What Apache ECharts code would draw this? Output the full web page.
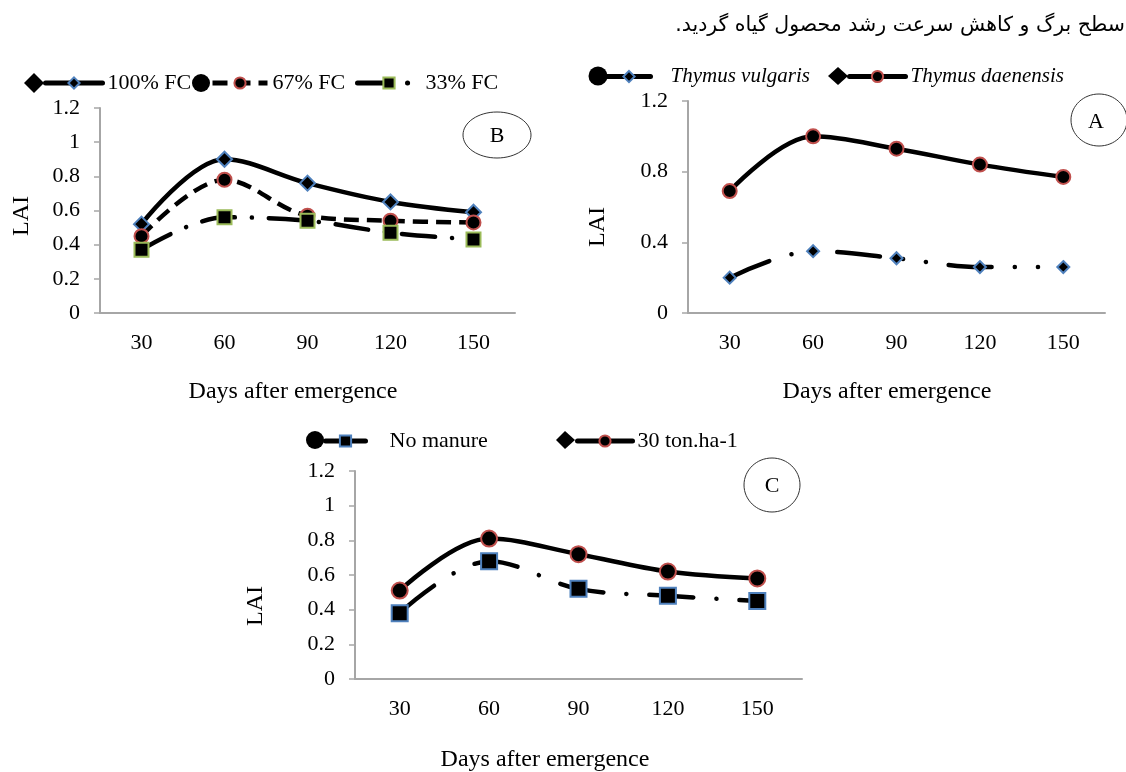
<!DOCTYPE html>
<html><head><meta charset="utf-8">
<script src="https://cdn.jsdelivr.net/npm/echarts@6/dist/echarts.min.js"></script>
<style>html,body{margin:0;padding:0;background:#fff}#c{width:1126px;height:772px}</style>
</head><body><div id="c"></div>
<script>
// ---- data ----
const days = ['30', '60', '90', '120', '150'];
const fc100 = [0.52, 0.90, 0.76, 0.65, 0.59];
const fc67 = [0.45, 0.78, 0.57, 0.54, 0.53];
const fc33 = [0.37, 0.56, 0.54, 0.47, 0.43];
const vulgaris = [0.20, 0.35, 0.31, 0.26, 0.26];
const daenensis = [0.69, 1.00, 0.93, 0.84, 0.77];
const noManure = [0.38, 0.68, 0.52, 0.48, 0.45];
const ton30 = [0.51, 0.81, 0.72, 0.62, 0.58];
const yIntervals = [0.2, 0.4, 0.2]; // panel B, panel A, panel C
const persianLine = 'سطح برگ و کاهش سرعت رشد محصول گیاه گردید.\u200f';

const chart = echarts.init(document.getElementById('c'), null, {renderer: 'canvas'});
const serif = 'Liberation Serif';
const BLUE = '#4f81bd', RED = '#c0504d', GREEN = '#9bbb59', AXIS = '#a6a6a6';

function xAx(i) {
  return {type: 'category', gridIndex: i, data: days,
    axisLine: {lineStyle: {color: AXIS, width: 2}}, axisTick: {show: false},
    axisLabel: {color: '#000', fontFamily: serif, fontSize: 22, margin: 19}};
}
function yAx(i, interval) {
  return {type: 'value', gridIndex: i, min: 0, max: 1.2, interval: interval,
    splitLine: {show: false},
    axisLine: {show: true, lineStyle: {color: AXIS, width: 2}},
    axisTick: {show: true, length: 6, lineStyle: {color: AXIS, width: 1.5}},
    axisLabel: {color: '#000', fontFamily: serif, fontSize: 22, margin: 20,
      formatter: v => String(+(+v).toFixed(1))}};
}
function ser(name, data, i, symbol, size, border, type, cap) {
  return {name: name, type: 'line', xAxisIndex: i, yAxisIndex: i, data: data,
    smooth: 0.35, symbol: symbol, symbolSize: size, showSymbol: true,
    itemStyle: {color: '#000', borderColor: border, borderWidth: 2},
    lineStyle: {color: '#000', width: 4.5, type: type, cap: cap || 'butt'},
    emphasis: {disabled: true}, animation: false};
}
function leg(name, left, top, w, size, italic, padLeft) {
  return {data: [name], left: left, top: top, padding: 0, itemWidth: w, itemHeight: 14,
    itemGap: 0, selectedMode: false, lineStyle: {width: 5},
    textStyle: {color: '#000', fontFamily: serif, fontSize: size, fontStyle: italic ? 'italic' : 'normal',
      padding: [0, 0, 0, padLeft || 0]}};
}

const option = {
  backgroundColor: '#fff',
  animation: false,
  grid: [
    {left: 100, top: 108, width: 415, height: 205},
    {left: 688, top: 101, width: 417, height: 212},
    {left: 355, top: 471, width: 447, height: 208}
  ],
  xAxis: [xAx(0), xAx(1), xAx(2)],
  yAxis: [yAx(0, yIntervals[0]), yAx(1, yIntervals[1]), yAx(2, yIntervals[2])],
  legend: [
    leg('100% FC', 43, 72, 57, 22),
    leg('67% FC', 210, 72, 55, 22),
    leg('33% FC', 355, 72, 63, 22),
    leg('Thymus vulgaris', 605, 66, 43, 21, true, 15),
    leg('Thymus daenensis', 847, 66, 56, 21, true),
    leg('No manure', 323, 430, 40, 22, false, 19),
    leg('30 ton.ha-1', 575, 430, 55, 22)
  ],
  series: [
    ser('100% FC', fc100, 0, 'diamond', 15, BLUE, 'solid', 'round'),
    ser('67% FC', fc67, 0, 'circle', 14, RED, [15, 8]),
    ser('33% FC', fc33, 0, 'rect', 14, GREEN, [33, 17, 0.1, 17], 'round'),
    ser('Thymus vulgaris', vulgaris, 1, 'diamond', 12, BLUE, [43, 23, 0.1, 23, 0.1, 23], 'round'),
    ser('Thymus daenensis', daenensis, 1, 'circle', 14, RED, 'solid', 'round'),
    ser('No manure', noManure, 2, 'rect', 16, BLUE, [44, 23, 0.1, 23], 'round'),
    ser('30 ton.ha-1', ton30, 2, 'circle', 16, RED, 'solid', 'round')
  ],
  graphic: [
    // Persian caption line
    {type: 'text', right: 1, top: 15, style: {text: persianLine, fill: '#000', font: '20.5px "DejaVu Sans"'}},
    // leading black legend markers
    {type: 'polygon', shape: {points: [[24, 83], [34, 73], [44, 83], [34, 93]]}, style: {fill: '#000'}},
    {type: 'circle', shape: {cx: 201, cy: 83, r: 9}, style: {fill: '#000'}},
    {type: 'circle', shape: {cx: 598, cy: 76, r: 9.5}, style: {fill: '#000'}},
    {type: 'polygon', shape: {points: [[828, 76], [838, 67], [848, 76], [838, 85]]}, style: {fill: '#000'}},
    {type: 'circle', shape: {cx: 315, cy: 440, r: 9}, style: {fill: '#000'}},
    {type: 'polygon', shape: {points: [[556, 440], [565, 431], [575, 440], [565, 449]]}, style: {fill: '#000'}},
    // panel labels
    {type: 'ellipse', shape: {cx: 497, cy: 135, rx: 34, ry: 23}, style: {fill: 'none', stroke: '#333', lineWidth: 1}},
    {type: 'text', x: 497, y: 136, style: {text: 'B', fill: '#000', font: '22px "Liberation Serif"', align: 'center', verticalAlign: 'middle'}},
    {type: 'ellipse', shape: {cx: 1099, cy: 120, rx: 28, ry: 26}, style: {fill: 'none', stroke: '#333', lineWidth: 1}},
    {type: 'text', x: 1096, y: 122, style: {text: 'A', fill: '#000', font: '22px "Liberation Serif"', align: 'center', verticalAlign: 'middle'}},
    {type: 'ellipse', shape: {cx: 772, cy: 485, rx: 28, ry: 27}, style: {fill: 'none', stroke: '#333', lineWidth: 1}},
    {type: 'text', x: 772, y: 486, style: {text: 'C', fill: '#000', font: '22px "Liberation Serif"', align: 'center', verticalAlign: 'middle'}},
    // axis titles
    {type: 'text', x: 293, y: 392, style: {text: 'Days after emergence', fill: '#000', font: '24px "Liberation Serif"', align: 'center', verticalAlign: 'middle'}},
    {type: 'text', x: 887, y: 392, style: {text: 'Days after emergence', fill: '#000', font: '24px "Liberation Serif"', align: 'center', verticalAlign: 'middle'}},
    {type: 'text', x: 545, y: 760, style: {text: 'Days after emergence', fill: '#000', font: '24px "Liberation Serif"', align: 'center', verticalAlign: 'middle'}},
    {type: 'text', x: 22, y: 216, rotation: Math.PI / 2, style: {text: 'LAI', fill: '#000', font: '24px "Liberation Serif"', align: 'center', verticalAlign: 'middle'}},
    {type: 'text', x: 598, y: 227, rotation: Math.PI / 2, style: {text: 'LAI', fill: '#000', font: '24px "Liberation Serif"', align: 'center', verticalAlign: 'middle'}},
    {type: 'text', x: 256, y: 606, rotation: Math.PI / 2, style: {text: 'LAI', fill: '#000', font: '24px "Liberation Serif"', align: 'center', verticalAlign: 'middle'}}
  ]
};
chart.setOption(option);
</script>
</body></html>
